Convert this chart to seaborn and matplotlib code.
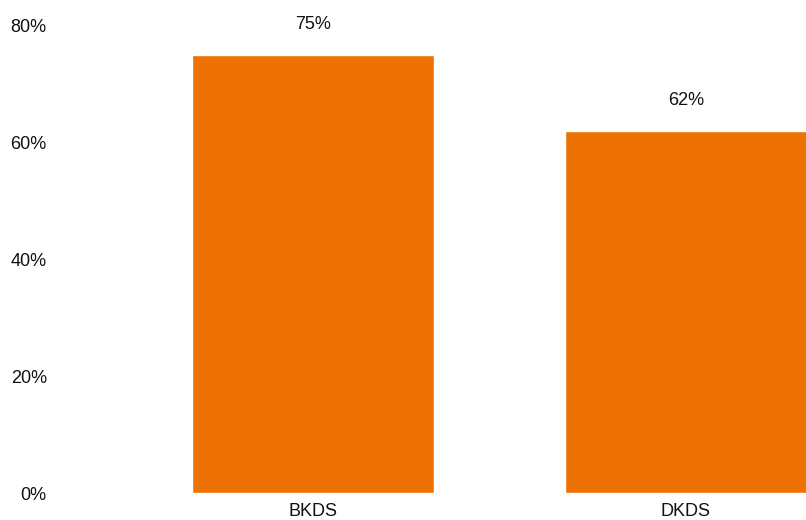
import matplotlib
matplotlib.use("Agg")
import matplotlib.pyplot as plt
import seaborn as sns
import pandas as pd

categories = ["BKDS", "DKDS"]
values = [75, 62]
y_ticks = [0, 20, 40, 60, 80]
y_tick_labels = ["0%", "20%", "40%", "60%", "80%"]

sns.set_theme(style="white")
plt.rcParams["font.family"] = ["Liberation Sans", "DejaVu Sans"]

df = pd.DataFrame({"category": categories, "value": values})

fig = plt.figure(figsize=(8.06, 5.2), dpi=100)
ax = fig.add_axes([60 / 806, 27 / 520, 746 / 806, 467 / 520])

sns.barplot(data=df, x="category", y="value", color="#EE7203", saturation=1,
            width=0.65, ax=ax)

for c in ax.containers:
    ax.bar_label(c, labels=[f"{v}%" for v in values], padding=16,
                 fontsize=13, color="#111111")

ax.set_xlim(-0.678, 1.322)
ax.set_ylim(0, 80)
ax.set_yticks(y_ticks)
ax.set_yticklabels(y_tick_labels)
ax.set_xlabel("")
ax.set_ylabel("")
ax.tick_params(axis="both", length=0, labelsize=13, labelcolor="#111111")
ax.tick_params(axis="y", pad=9.5)
ax.tick_params(axis="x", pad=7)
for s in ax.spines.values():
    s.set_visible(False)
ax.grid(False)
for t in ax.texts:
    t.set_clip_on(False)

fig.savefig("out.png", dpi=100)
